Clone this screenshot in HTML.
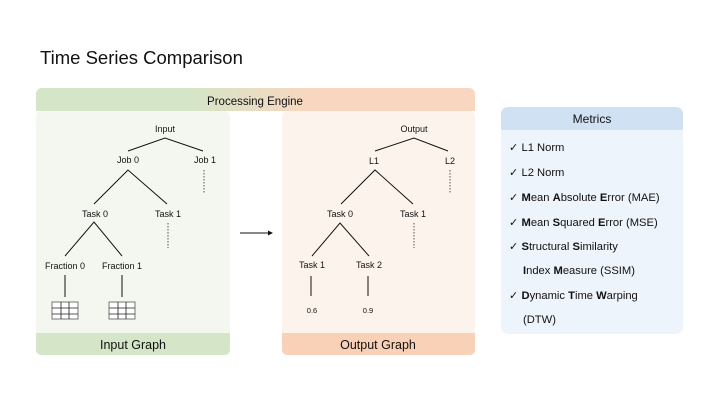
<!DOCTYPE html>
<html><head><meta charset="utf-8"><style>
html,body{margin:0;padding:0;background:#fff;}
svg{display:block;font-family:"Liberation Sans",sans-serif;}
</style></head><body>
<svg width="720" height="405" viewBox="0 0 720 405" xmlns="http://www.w3.org/2000/svg">
<defs>
<linearGradient id="hg" x1="36" x2="475" y1="0" y2="0" gradientUnits="userSpaceOnUse">
<stop offset="0.35" stop-color="#d5e5c8"/><stop offset="0.63" stop-color="#f9d6bf"/>
</linearGradient>
</defs>
<text x="40" y="64" font-size="18.5" fill="#111">Time Series Comparison</text>
<rect x="36" y="111" width="194" height="244" rx="5" fill="#f3f7ef"/>
<rect x="282" y="111" width="193" height="244" rx="5" fill="#fdf3ed"/>
<path d="M36 94a6 6 0 0 1 6-6h427a6 6 0 0 1 6 6v17H36z" fill="url(#hg)"/>
<text x="255" y="105" font-size="11.5" text-anchor="middle" fill="#111">Processing Engine</text>
<path d="M36 333h194v17a5 5 0 0 1-5 5H41a5 5 0 0 1-5-5z" fill="#d5e5c8"/>
<text x="133" y="349" font-size="12.5" text-anchor="middle" fill="#111">Input Graph</text>
<path d="M282 333h193v17a5 5 0 0 1-5 5H287a5 5 0 0 1-5-5z" fill="#f9d1b6"/>
<text x="378" y="349" font-size="12.5" text-anchor="middle" fill="#111">Output Graph</text>
<g font-size="9" text-anchor="middle" fill="#111">
<text x="165" y="132">Input</text>
<text x="128" y="163">Job 0</text><text x="205" y="163">Job 1</text>
<text x="95" y="217">Task 0</text><text x="168" y="217">Task 1</text>
<text x="65" y="269">Fraction 0</text><text x="122" y="269">Fraction 1</text>
<text x="414" y="132">Output</text>
<text x="374" y="164">L1</text><text x="450" y="164">L2</text>
<text x="340" y="217">Task 0</text><text x="413" y="217">Task 1</text>
<text x="312" y="268">Task 1</text><text x="369" y="268">Task 2</text>
<text x="312" y="313" font-size="7.5">0.6</text><text x="368" y="313" font-size="7.5">0.9</text>
</g>
<g stroke="#111" stroke-width="1" fill="none">
<path d="M128 151L165 138L203 151M94 204L128 170L167 204M65 256L94 222L122 256M65 275V297M122 275V297"/>
<path d="M375 151L414 138L448 151M341 204L375 170L413 204M312 256L340 223L369 256M311 276V296M368 276V296"/>
<path d="M204 170V194M168 223V248M450 170V194M414 223V248" stroke-dasharray="1.5,1.5" stroke-width="0.7"/>
<path d="M240 233H269"/>
</g>
<path d="M273 233l-5-2.5v5z" fill="#111"/>
<g stroke="#777" stroke-width="1" fill="#fff">
<rect x="52" y="302" width="26" height="17"/><rect x="109" y="302" width="26" height="17"/>
</g>
<g stroke="#222" stroke-width="0.8">
<path d="M61 302V319M69 302V319M52 308H78M52 314H78M118 302V319M126 302V319M109 308H135M109 314H135"/>
</g>
<rect x="501" y="107" width="182" height="227" rx="7" fill="#eef4fb"/>
<path d="M501 114a7 7 0 0 1 7-7h168a7 7 0 0 1 7 7v16H501z" fill="#cfe1f2"/>
<text x="592" y="123" font-size="12" text-anchor="middle" fill="#111">Metrics</text>
<g font-size="11.2" fill="#111">
<text x="509" y="151">✓ L1 Norm</text>
<text x="509" y="176">✓ L2 Norm</text>
<text x="509" y="201">✓ <tspan font-weight="bold">M</tspan>ean <tspan font-weight="bold">A</tspan>bsolute <tspan font-weight="bold">E</tspan>rror (MAE)</text>
<text x="509" y="226">✓ <tspan font-weight="bold">M</tspan>ean <tspan font-weight="bold">S</tspan>quared <tspan font-weight="bold">E</tspan>rror (MSE)</text>
<text x="509" y="250">✓ <tspan font-weight="bold">S</tspan>tructural <tspan font-weight="bold">S</tspan>imilarity</text>
<text x="523" y="274"><tspan font-weight="bold">I</tspan>ndex <tspan font-weight="bold">M</tspan>easure (SSIM)</text>
<text x="509" y="299">✓ <tspan font-weight="bold">D</tspan>ynamic <tspan font-weight="bold">T</tspan>ime <tspan font-weight="bold">W</tspan>arping</text>
<text x="523" y="323">(DTW)</text>
</g>
</svg>
</body></html>
